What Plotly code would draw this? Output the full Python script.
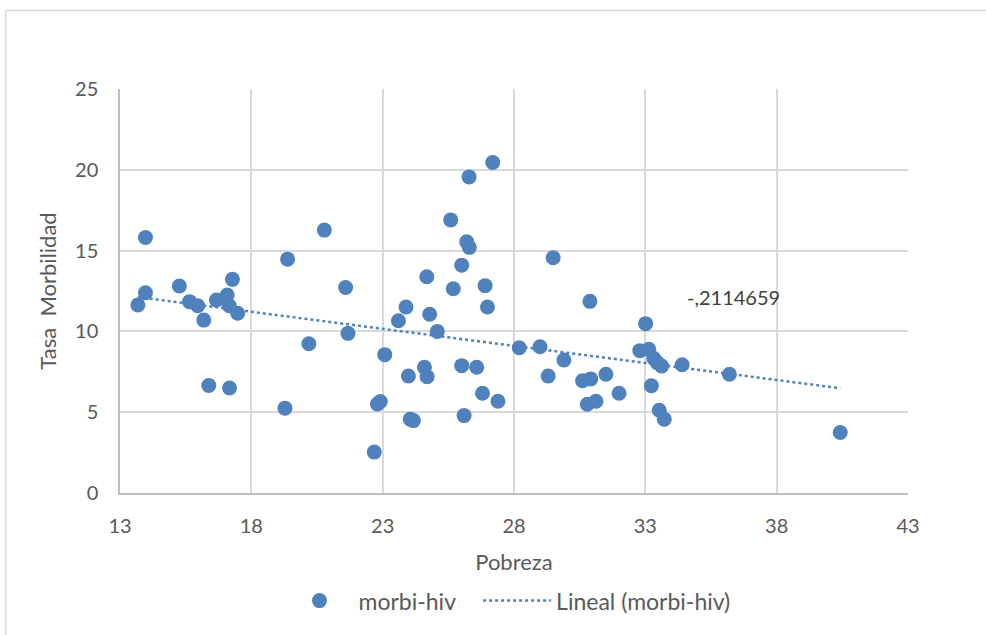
import numpy as np
import plotly.graph_objects as go

pobreza = [13.97, 13.97, 13.68, 15.26, 15.65, 15.96, 16.19, 16.67, 17.08, 17.28,
           17.16, 17.48, 16.38, 17.17, 19.38, 20.78, 21.59, 21.68, 20.19, 19.28,
           22.68, 27.19, 26.29, 25.59, 26.20, 26.30, 26.01, 29.49, 24.68, 25.69,
           26.90, 26.99, 23.89, 24.79, 23.60, 25.08, 23.08, 28.20, 28.99, 29.30,
           29.90, 23.98, 24.59, 24.69, 26.01, 26.58, 26.80, 27.39, 26.10, 22.80,
           22.91, 24.05, 24.17, 30.89, 33.01, 30.61, 30.92, 31.50, 30.79, 31.12,
           32.00, 32.79, 33.13, 33.32, 33.45, 33.62, 34.40, 36.20, 33.23, 33.53,
           33.72, 40.42]
morbilidad = [15.81, 12.39, 11.63, 12.81, 11.84, 11.59, 10.70, 11.94, 12.25, 13.22,
              11.59, 11.12, 6.65, 6.50, 14.47, 16.27, 12.72, 9.88, 9.24, 5.25,
              2.53, 20.45, 19.56, 16.90, 15.54, 15.20, 14.10, 14.56, 13.38, 12.64,
              12.83, 11.51, 11.51, 11.06, 10.66, 10.00, 8.56, 8.99, 9.05, 7.24,
              8.23, 7.24, 7.78, 7.20, 7.88, 7.78, 6.17, 5.68, 4.79, 5.51,
              5.66, 4.57, 4.48, 11.86, 10.48, 6.95, 7.06, 7.35, 5.49, 5.68,
              6.17, 8.81, 8.89, 8.34, 8.07, 7.86, 7.94, 7.35, 6.64, 5.12,
              4.57, 3.74]
x_ticks = [13, 18, 23, 28, 33, 38, 43]
y_ticks = [0, 5, 10, 15, 20, 25]
slope_label = "-,2114659"

BLUE = "#4f81bd"
GREY = "#595959"
FONT = "Lato"

xs = np.array(pobreza)
ys = np.array(morbilidad)
m, b = np.polyfit(xs, ys, 1)
tx = np.array([xs.min(), xs.max()])
ty = m * tx + b

fig = go.Figure()
fig.add_trace(go.Scatter(x=pobreza, y=morbilidad, mode="markers",
                         name="morbi-hiv" + "\u00a0" * 3,
                         marker=dict(size=15, color=BLUE, line=dict(width=0))))
fig.add_trace(go.Scatter(x=tx, y=ty, mode="lines", name="Lineal (morbi-hiv)",
                         line=dict(color=BLUE, width=2.5, dash="dot")))

W, H = 986, 635
L, R, T, B = 119.5, 77.5, 88.6, 141.8
pw, ph = W - L - R, H - T - B

def px2paper(px, py):
    return (px - L) / pw, 1 - (py - T) / ph

x0, y0 = px2paper(5, 10)
x1, y1 = px2paper(992, 640)
lgx, lgy = px2paper(508, 601)

fig.update_layout(
    width=W, height=H,
    margin=dict(l=L, r=R, t=T, b=B),
    paper_bgcolor="white", plot_bgcolor="white",
    font=dict(family=FONT, size=20, color=GREY),
    showlegend=True,
    legend=dict(orientation="h", x=lgx, xanchor="center", y=lgy, yanchor="middle",
                font=dict(size=23, color=GREY), itemwidth=68),
    xaxis=dict(range=[13, 43], tickvals=x_ticks, showgrid=True, gridcolor="#d9d9d9",
               gridwidth=1.5, zeroline=False, showline=True, linecolor="#bfbfbf",
               linewidth=1.5, ticks="", ticklabelstandoff=14, tickfont=dict(size=20, color=GREY),
               title=dict(text="Pobreza", font=dict(size=22, color=GREY), standoff=19)),
    yaxis=dict(range=[0, 25], tickvals=y_ticks, showgrid=True, gridcolor="#d9d9d9",
               gridwidth=1.5, zeroline=False, showline=True, linecolor="#bfbfbf",
               linewidth=1.5, ticks="", ticklabelstandoff=16, tickfont=dict(size=20, color=GREY),
               title=dict(text="Tasa  Morbilidad", font=dict(size=22, color=GREY), standoff=12)),
    shapes=[dict(type="rect", xref="paper", yref="paper", x0=x0, y0=y1, x1=x1, y1=y0,
                 line=dict(color="#d9d9d9", width=1.5), fillcolor="rgba(0,0,0,0)", layer="below")],
    annotations=[dict(x=34.5, y=12.13, xref="x", yref="y", text=slope_label, showarrow=False,
                      xanchor="left", yanchor="middle",
                      font=dict(family=FONT, size=20, color="#404040"))],
)

fig.write_html("out.html")
